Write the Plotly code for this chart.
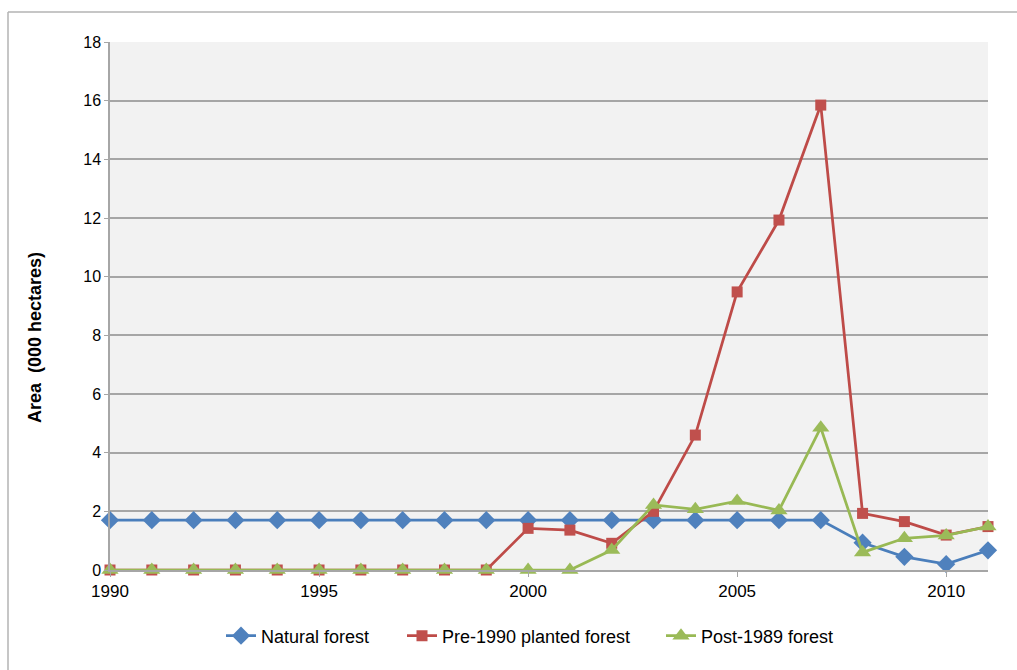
import plotly.graph_objects as go

# Annual area by forest type (000 hectares)
years = list(range(1990, 2012))
natural_forest = [1.7] * 18 + [0.93, 0.45, 0.2, 0.67]
pre1990_planted = [0.0] * 10 + [1.42, 1.36, 0.91, 2.0, 4.6, 9.48, 11.93, 15.85, 1.93, 1.65, 1.19, 1.48]
post1989_forest = [0.0] * 12 + [0.68, 2.22, 2.07, 2.35, 2.03, 4.85, 0.6, 1.08, 1.18, 1.48]

L, R, T, B = 110, 988, 42, 570
W, H = 1017, 670
pw, ph = R - L, B - T

def px_x(x):
    return (x - L) / pw

def px_y(y):
    return (B - y) / ph

# name, values, line colour, marker colour, symbol, size, legend id, legend left edge (px)
series = [
    ("Natural forest", natural_forest, "#4A7EBB", "#4F81BD", "diamond", 14, "legend", 221),
    ("Pre-1990 planted forest", pre1990_planted, "#BE4B48", "#C0504D", "square", 11, "legend2", 402),
    ("Post-1989 forest", post1989_forest, "#98B954", "#9BBB59", "triangle-up", 15, "legend3", 661),
]

font = "Liberation Sans, Arial, sans-serif"
fig = go.Figure()
legend_layouts = {}
for name, vals, line_col, mk_col, sym, size, leg, leg_x in series:
    fig.add_trace(go.Scatter(
        x=years, y=vals, name=name, mode="lines+markers",
        line=dict(color=line_col, width=2.75),
        marker=dict(symbol=sym, size=size, color=mk_col),
        cliponaxis=False, legend=leg,
    ))
    legend_layouts[leg] = dict(
        orientation="h", x=px_x(leg_x), xanchor="left",
        y=px_y(636), yanchor="middle",
        font=dict(size=18), bgcolor="rgba(0,0,0,0)",
    )

# Outer chart-area border (top and left edges visible)
border = "#B3B3B3"
fig.add_shape(type="line", xref="paper", yref="paper",
              x0=px_x(8), x1=px_x(1030), y0=px_y(12), y1=px_y(12),
              line=dict(color=border, width=1.5))
fig.add_shape(type="line", xref="paper", yref="paper",
              x0=px_x(8), x1=px_x(8), y0=px_y(12), y1=px_y(700),
              line=dict(color=border, width=1.5))

# Y-axis title
fig.add_annotation(
    text="<b>Area  (000 hectares)</b>", textangle=-90,
    xref="paper", yref="paper", x=px_x(35), y=px_y(338),
    xanchor="center", yanchor="middle", showarrow=False,
    font=dict(size=18, family=font, color="black"),
)

fig.update_layout(
    width=W, height=H,
    margin=dict(l=L, r=W - R, t=T, b=H - B),
    paper_bgcolor="white",
    plot_bgcolor="#F2F2F2",
    font=dict(family=font, size=16, color="black"),
    showlegend=True,
    **legend_layouts,
    xaxis=dict(
        range=[1990, 2011], tickvals=[1990, 1995, 2000, 2005, 2010],
        showgrid=False, zeroline=False,
        showline=True, linecolor="#A6A6A6", linewidth=1.5,
        ticks="outside", ticklen=5, tickcolor="#A6A6A6",
        tickfont=dict(size=17),
    ),
    yaxis=dict(
        range=[0, 18], dtick=2,
        showgrid=True, gridcolor="#A6A6A6", gridwidth=1.5,
        zeroline=False,
        showline=True, linecolor="#A6A6A6", linewidth=1.5,
        ticks="outside", ticklen=4, tickcolor="#A6A6A6",
        tickfont=dict(size=16),
    ),
)

fig.write_html("out.html")
